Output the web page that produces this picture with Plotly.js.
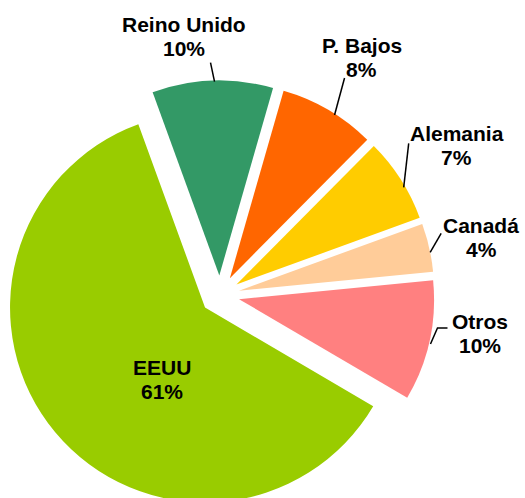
<!DOCTYPE html>
<html><head><meta charset="utf-8">
<script src="https://cdn.plot.ly/plotly-3.0.1.min.js"></script>
<style>html,body{margin:0;padding:0;overflow:hidden;background:#fff}#chart{width:525px;height:512px}</style>
</head><body><div id="chart"></div>
<script>
// ---- data ----
const labels = ['Reino Unido', 'P. Bajos', 'Alemania', 'Canadá', 'Otros', 'EEUU'];
const values = [10, 8, 7, 4, 10, 61];
const colors = ['#339966', '#FF6600', '#FFCC00', '#FFCC99', '#FF8080', '#99CC00'];

// ---- layout constants ----
const W = 525, H = 512;
const PULL = 0.1, ROT = -20;
const dom = {x: [0.0105, 0.8276], y: [0.004, 0.8437]};
const LINE_GAP = 24;
// label centre offsets (px) from the outer-arc point on each slice bisector
const labelOff = [[-28.5, -44], [33, -52.5], [56, -34], [52, -10], [51, -8], [107, -53]];
// leader line vertices (px) relative to the same arc point
const leaders = [
  [[2, 1], [-2, -18]],
  [[6, 5], [16, -32]],
  [[3, 8], [8, -36]],
  [[1, 5], [12, -14]],
  [[1, 3], [8, -13], [18, -13]],
  null
];

// ---- geometry from Plotly's pie scaling ----
const cx = W * (dom.x[0] + dom.x[1]) / 2;
const cy = H * (1 - (dom.y[0] + dom.y[1]) / 2);
const r = Math.min(W * (dom.x[1] - dom.x[0]), H * (dom.y[1] - dom.y[0])) / 2 / (1 + PULL);
const total = values.reduce((a, b) => a + b, 0);
const px = x => x / W, py = y => 1 - y / H;
const font = {family: 'Liberation Sans, Arial, sans-serif', size: 21, color: '#000', weight: 'bold'};

const annotations = [], shapes = [];
let cum = 0;
values.forEach((v, i) => {
  const mid = (ROT + 360 * (cum + v / 2) / total) * Math.PI / 180;
  cum += v;
  const dx = Math.sin(mid), dy = -Math.cos(mid);
  const ax = cx + dx * r * (1 + PULL), ay = cy + dy * r * (1 + PULL);
  const tx = ax + labelOff[i][0], ty = ay + labelOff[i][1];
  [labels[i], Math.round(100 * v / total) + '%'].forEach((t, k) => {
    annotations.push({
      xref: 'paper', yref: 'paper',
      x: px(tx), y: py(ty + (k - 0.5) * LINE_GAP),
      xanchor: 'center', yanchor: 'middle', showarrow: false,
      text: t, font: font
    });
  });
  if (leaders[i]) {
    const path = leaders[i].map((p, k) => (k ? 'L' : 'M') + px(ax + p[0]) + ',' + py(ay + p[1])).join(' ');
    shapes.push({type: 'path', xref: 'paper', yref: 'paper', path: path,
      line: {color: '#000', width: 1.5}});
  }
});

const trace = {
  type: 'pie', labels: labels, values: values,
  marker: {colors: colors, line: {width: 0}},
  sort: false, direction: 'clockwise', rotation: ROT,
  pull: values.map(() => PULL),
  textinfo: 'none', hoverinfo: 'none', showlegend: false,
  domain: dom
};

Plotly.newPlot('chart', [trace], {
  width: W, height: H,
  margin: {l: 0, r: 0, t: 0, b: 0, pad: 0},
  paper_bgcolor: '#fff', plot_bgcolor: '#fff',
  showlegend: false,
  annotations: annotations, shapes: shapes
}, {staticPlot: true});
</script>
</body></html>
